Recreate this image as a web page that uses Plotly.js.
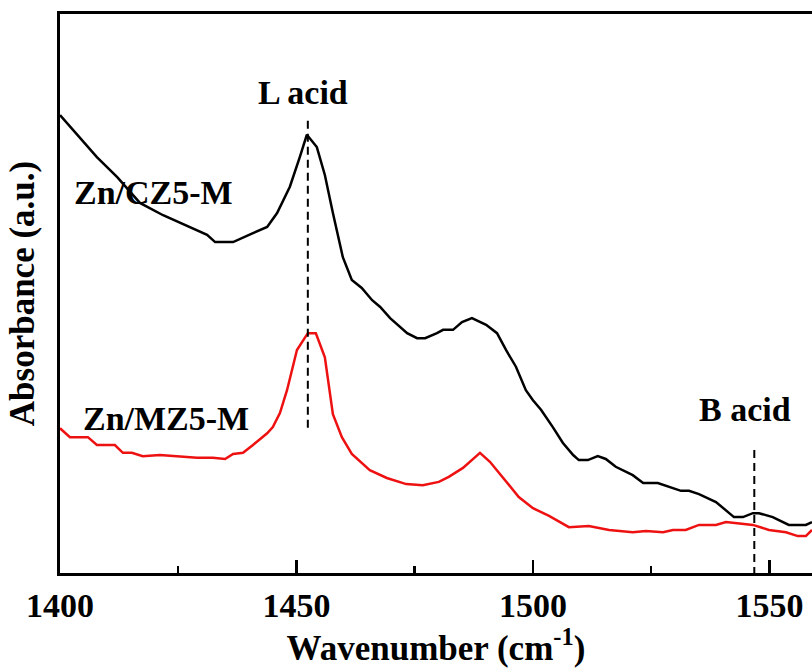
<!DOCTYPE html>
<html>
<head>
<meta charset="utf-8">
<script src="https://cdn.plot.ly/plotly-3.0.1.min.js"></script>
<style>html,body{margin:0;padding:0;background:#fff;}#chart{width:812px;height:668px;}</style>
</head>
<body>
<div id="chart"></div>
<script>
// Zn/CZ5-M (black)
const czWavenumber = [1400.0,1404.2,1407.8,1412.1,1416.9,1421.8,1427.5,1431.1,1432.8,1436.6,1440.8,1443.8,1445.9,1448.6,1450.7,1452.2,1454.3,1456.0,1457.7,1459.8,1461.7,1463.8,1466.0,1467.7,1469.8,1473.4,1475.5,1477.2,1479.7,1481.0,1483.1,1485.0,1487.1,1490.1,1492.4,1494.3,1496.4,1498.5,1500.0,1501.7,1504.2,1506.3,1508.5,1509.7,1511.6,1513.7,1515.4,1517.5,1521.1,1523.3,1526.4,1528.8,1531.3,1533.0,1535.1,1538.7,1540.8,1542.5,1544.4,1546.5,1547.8,1550.7,1554.1,1557.7,1559.0];
const czAbsorbance = [0.819,0.778,0.744,0.708,0.662,0.640,0.619,0.605,0.592,0.592,0.608,0.619,0.644,0.691,0.744,0.784,0.762,0.712,0.644,0.565,0.524,0.510,0.488,0.476,0.456,0.429,0.420,0.420,0.429,0.435,0.435,0.449,0.456,0.444,0.429,0.399,0.369,0.327,0.309,0.292,0.261,0.233,0.211,0.202,0.202,0.209,0.204,0.190,0.175,0.161,0.161,0.154,0.147,0.147,0.141,0.127,0.113,0.100,0.100,0.107,0.107,0.100,0.086,0.086,0.091];
// Zn/MZ5-M (red)
const mzWavenumber = [1400.0,1402.1,1405.9,1407.8,1411.6,1413.3,1415.2,1417.5,1421.1,1425.4,1429.0,1432.3,1434.9,1436.6,1438.7,1440.8,1443.8,1445.0,1446.5,1448.0,1450.1,1452.4,1454.1,1456.0,1457.7,1459.6,1461.7,1465.5,1469.1,1473.2,1476.7,1480.1,1482.2,1485.2,1487.1,1488.8,1490.9,1494.3,1497.0,1500.0,1503.4,1507.6,1511.8,1516.1,1521.1,1523.9,1527.5,1529.6,1532.3,1535.1,1538.7,1540.8,1543.6,1546.5,1549.9,1553.5,1556.0,1557.7,1559.0];
const mzAbsorbance = [0.259,0.243,0.243,0.229,0.229,0.215,0.215,0.209,0.211,0.208,0.206,0.206,0.204,0.213,0.215,0.229,0.250,0.261,0.286,0.327,0.399,0.429,0.429,0.386,0.284,0.243,0.213,0.184,0.170,0.159,0.157,0.163,0.172,0.188,0.202,0.215,0.199,0.165,0.136,0.116,0.102,0.082,0.084,0.077,0.073,0.075,0.073,0.077,0.077,0.086,0.086,0.091,0.088,0.086,0.077,0.073,0.066,0.066,0.077];
const tickValues = [1400,1450,1500,1550];
const tickLabels = ["1400","1450","1500","1550"];
const seriesNames = ["Zn/CZ5-M","Zn/MZ5-M"];
const peakLabels = ["L acid","B acid"];
const peakPositions = [1452.4,1546.8];

const FONT = "'Liberation Serif','Times New Roman',Times,serif";
const fontBold = (s) => ({family: FONT, size: s, color: '#000', weight: 'bold'});

const traces = [
  {x: czWavenumber, y: czAbsorbance, mode: 'lines', name: seriesNames[0], line: {color: '#000000', width: 2.5}},
  {x: mzWavenumber, y: mzAbsorbance, mode: 'lines', name: seriesNames[1], line: {color: '#ee1111', width: 2.5}}
];

const layout = {
  width: 812, height: 668,
  margin: {l: 60, r: 0, t: 14, b: 95, pad: 0},
  paper_bgcolor: '#fff', plot_bgcolor: '#fff',
  showlegend: false,
  xaxis: {
    range: [1400, 1559], showgrid: false, zeroline: false,
    showline: true, linewidth: 3, linecolor: '#000', mirror: true,
    ticks: 'inside', ticklen: 13, tickwidth: 2.5, tickcolor: '#000',
    tickvals: tickValues, ticktext: tickLabels,
    minor: {dtick: 25, tick0: 1400, ticks: 'inside', ticklen: 7, tickwidth: 2.5, tickcolor: '#000', showgrid: false},
    tickfont: fontBold(34),
    title: {text: 'Wavenumber (cm<sup>-1</sup>)', font: fontBold(35), standoff: 10}
  },
  yaxis: {
    range: [0, 1], showgrid: false, zeroline: false,
    showline: true, linewidth: 3, linecolor: '#000', mirror: false,
    ticks: '', showticklabels: false,
    title: {text: 'Absorbance (a.u.)', font: fontBold(35), standoff: 12}
  },
  shapes: [
    {type: 'line', xref: 'x', yref: 'y', x0: peakPositions[0], x1: peakPositions[0], y0: 0.809, y1: 0.252, line: {color: '#000', width: 2, dash: '8px,5px'}},
    {type: 'line', xref: 'x', yref: 'y', x0: peakPositions[1], x1: peakPositions[1], y0: 0.220, y1: -0.007, line: {color: '#000', width: 2, dash: '8px,5px'}}
  ],
  annotations: [
    {text: peakLabels[0], x: 1451.4, y: 0.859, xref: 'x', yref: 'y', showarrow: false, font: fontBold(34)},
    {text: seriesNames[0], x: 1419.7, y: 0.680, xref: 'x', yref: 'y', showarrow: false, font: fontBold(34)},
    {text: seriesNames[1], x: 1422.4, y: 0.277, xref: 'x', yref: 'y', showarrow: false, font: fontBold(34)},
    {text: peakLabels[1], x: 1544.8, y: 0.292, xref: 'x', yref: 'y', showarrow: false, font: fontBold(34)}
  ]
};

Plotly.newPlot('chart', traces, layout, {displayModeBar: false, staticPlot: true});
</script>
</body>
</html>
